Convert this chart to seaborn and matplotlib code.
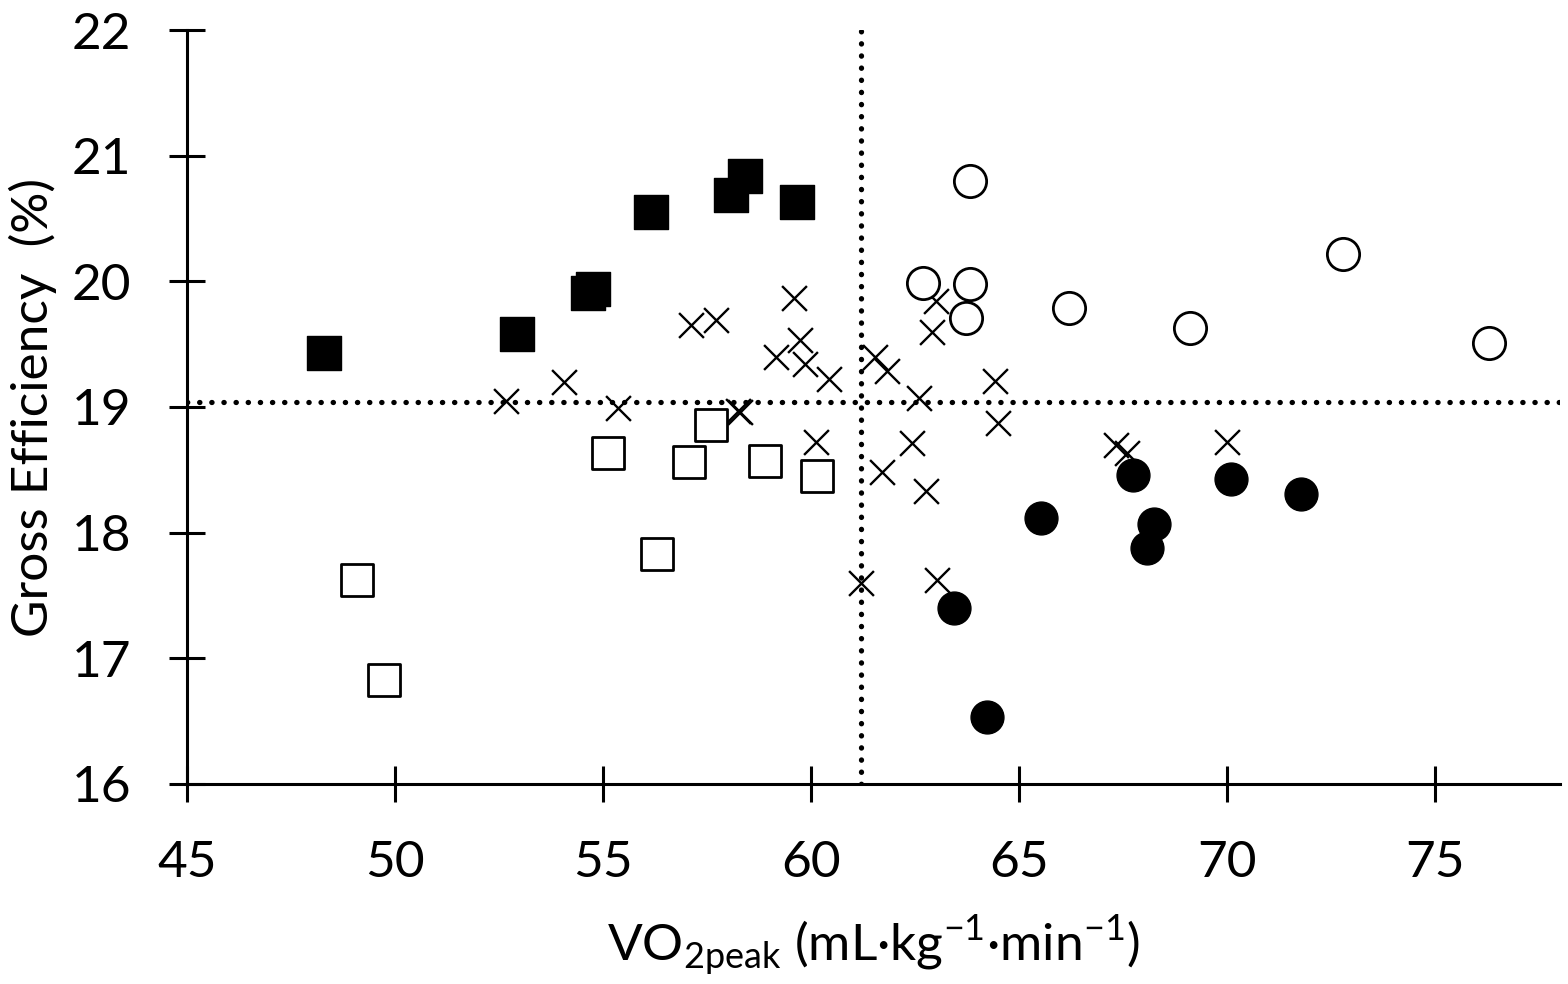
import matplotlib
matplotlib.use("Agg")
import matplotlib.pyplot as plt
import pandas as pd
import seaborn as sns

# groups
filled_sq_x = [48.28, 52.94, 54.64, 54.75, 56.14, 58.08, 58.42, 59.66]
filled_sq_y = [19.43, 19.58, 19.91, 19.94, 20.55, 20.69, 20.84, 20.63]

open_sq_x = [55.12, 57.60, 57.06, 58.88, 60.14, 56.30, 49.09, 49.73]
open_sq_y = [18.63, 18.86, 18.56, 18.57, 18.45, 17.83, 17.62, 16.83]

open_ci_x = [63.82, 62.68, 63.82, 63.73, 66.19, 69.10, 72.77, 76.28]
open_ci_y = [20.80, 19.99, 19.98, 19.71, 19.79, 19.63, 20.22, 19.51]

filled_ci_x = [67.74, 70.08, 71.78, 65.52, 68.23, 68.06, 63.43, 64.23]
filled_ci_y = [18.46, 18.43, 18.31, 18.12, 18.07, 17.88, 17.40, 16.53]

cross_x = [52.67, 54.06, 55.35, 57.10, 57.72, 58.24, 58.30, 59.59, 59.72, 59.16,
           59.86, 60.43, 60.11, 61.20, 61.54, 61.81, 63.01, 62.90, 62.60, 64.41,
           64.50, 62.43, 61.69, 62.77, 67.32, 67.58, 69.99, 63.03]
cross_y = [19.05, 19.20, 18.99, 19.65, 19.69, 18.97, 18.96, 19.87, 19.53, 19.40,
           19.34, 19.22, 18.72, 17.60, 19.40, 19.29, 19.84, 19.60, 19.07, 19.21,
           18.87, 18.71, 18.48, 18.33, 18.70, 18.63, 18.72, 17.62]

# median split lines
vo2_split = 61.2
ge_split = 19.04

x_ticks = [45, 50, 55, 60, 65, 70, 75]
y_ticks = [16, 17, 18, 19, 20, 21, 22]

sns.set_theme(style="white")
plt.rcParams["font.family"] = ["Lato", "DejaVu Sans"]
plt.rcParams["mathtext.fontset"] = "custom"
plt.rcParams["mathtext.rm"] = "Lato"

fig = plt.figure(figsize=(15.68, 9.84), dpi=100)
ax = fig.add_axes([0.1193, 0.2033, 0.8757, 0.7662])

dots = dict(color="black", lw=3.8, linestyle=(0, (0.05, 2.25)),
            dash_capstyle="round", zorder=1)
ax.axhline(ge_split, **dots)
ax.axvline(vo2_split, **dots)

sns.scatterplot(x=cross_x, y=cross_y, marker="x", s=320, color="black",
                linewidth=1.7, ax=ax, zorder=3)
sns.scatterplot(x=filled_sq_x, y=filled_sq_y, marker="s", s=600,
                color="black", edgecolor="black", linewidth=1, ax=ax, zorder=3)
sns.scatterplot(x=open_sq_x, y=open_sq_y, marker="s", s=560,
                facecolor="white", edgecolor="black", linewidth=2, ax=ax, zorder=3)
sns.scatterplot(x=open_ci_x, y=open_ci_y, marker="o", s=540,
                facecolor="white", edgecolor="black", linewidth=2, ax=ax, zorder=3)
sns.scatterplot(x=filled_ci_x, y=filled_ci_y, marker="o", s=560,
                color="black", edgecolor="black", linewidth=1, ax=ax, zorder=3)

ax.set_xlim(45, 78)
ax.set_ylim(16, 22)
ax.set_xticks(x_ticks)
ax.set_yticks(y_ticks)

for side in ["top", "right"]:
    ax.spines[side].set_visible(False)
for side in ["left", "bottom"]:
    ax.spines[side].set_color("black")
    ax.spines[side].set_linewidth(2.2)
ax.tick_params(bottom=True, left=True, direction="inout", length=26, width=2.2,
               color="black", labelsize=37, pad=27, labelcolor="black")

ax.set_xlabel(r"VO$_{\mathregular{2peak}}$ (mL·kg$^{\mathregular{-1}}$·min$^{\mathregular{-1}}$)",
              fontsize=37, color="black", labelpad=20)
ax.set_ylabel("Gross Efficiency  (%)", fontsize=37, color="black", labelpad=11)

fig.savefig("out.png", dpi=100)
